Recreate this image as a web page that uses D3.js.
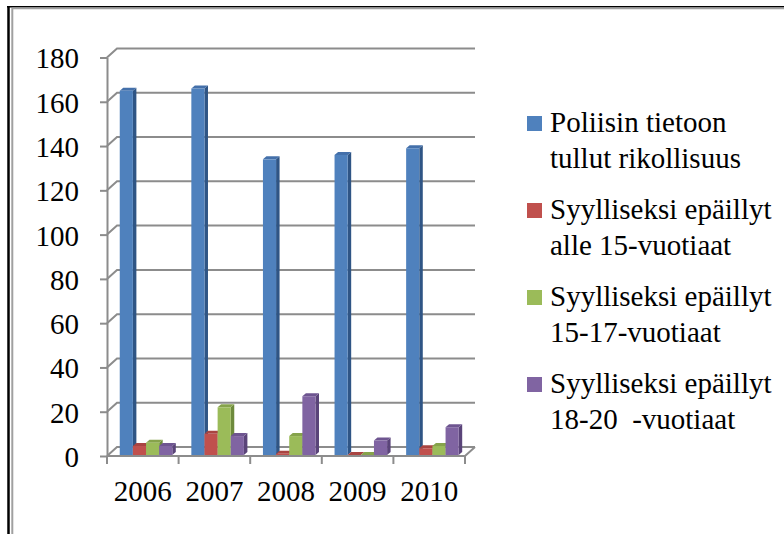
<!DOCTYPE html>
<html>
<head>
<meta charset="utf-8">
<script src="https://cdn.jsdelivr.net/npm/d3@7"></script>
<style>
  body { margin: 0; background: #fff; }
  svg text { font-family: "Liberation Serif", "DejaVu Serif", serif; fill: #000; }
</style>
</head>
<body>
<svg id="chart" width="784" height="534"></svg>
<script>
const years = ["2006", "2007", "2008", "2009", "2010"];
const seriesNames = [
  ["Poliisin tietoon", "tullut rikollisuus"],
  ["Syylliseksi epäillyt", "alle 15-vuotiaat"],
  ["Syylliseksi epäillyt", "15-17-vuotiaat"],
  ["Syylliseksi epäillyt", "18-20  -vuotiaat"]
];
const poliisi = [165, 166, 134, 136, 139];
const alle15 = [4.5, 10, 1, 0.5, 3.5];
const v15to17 = [6, 22, 9, 0.4, 4.5];
const v18to20 = [4.5, 9, 27, 7, 13];
const yTicks = [0, 20, 40, 60, 80, 100, 120, 140, 160, 180];

const series = [poliisi, alle15, v15to17, v18to20];
const front = ["#4f81bd", "#c0504d", "#9bbb59", "#8064a2"];
const side = ["#2f5585", "#8c3634", "#6d8a3c", "#5a4479"];
const topc = ["#4470aa", "#a94441", "#86a34b", "#6e5590"];

const FONT = 29;
const DEPTH = { x: 10, y: 9 };   // back wall offset
const BAR_D = { x: 3.5, y: 3 };  // bar depth
const PLOT = { left: 107, right: 465, top: 57.5, bottom: 456 };
const GRID = "#8c8c8c";

const svg = d3.select("#chart");

// frame
svg.append("line").attr("x1", 8.5).attr("x2", 8.5).attr("y1", 6).attr("y2", 534)
  .attr("stroke", "#000").attr("stroke-width", 2.5);
svg.append("line").attr("x1", 7).attr("x2", 784).attr("y1", 6.7).attr("y2", 6.7)
  .attr("stroke", "#000").attr("stroke-width", 1.6);
svg.append("line").attr("x1", 12.3).attr("x2", 784).attr("y1", 8.4).attr("y2", 8.4)
  .attr("stroke", "#a0a0a0").attr("stroke-width", 1.6);
svg.append("line").attr("x1", 12.3).attr("x2", 12.3).attr("y1", 8).attr("y2", 534)
  .attr("stroke", "#a0a0a0").attr("stroke-width", 2);

const y = d3.scaleLinear().domain([0, 180]).range([PLOT.bottom, PLOT.top]);
const x0 = d3.scaleBand().domain(years).range([PLOT.left, PLOT.right]).padding(0);
const bw = x0.bandwidth();
const x1 = d3.scaleBand().domain(d3.range(series.length))
  .range([bw * 0.178, bw * 0.912]).padding(0);

// back wall gridlines with diagonal from front axis
const grid = svg.append("g").attr("fill", "none").attr("stroke", GRID).attr("stroke-width", 2);
yTicks.forEach(t => {
  grid.append("path").attr("d",
    `M${PLOT.left},${y(t)}L${PLOT.left + DEPTH.x},${y(t) - DEPTH.y}H${PLOT.right + DEPTH.x}`);
});
// floor
grid.append("path").attr("d",
  `M${PLOT.left},${y(0)}H${PLOT.right}L${PLOT.right + DEPTH.x},${y(0) - DEPTH.y}`);
// category ticks under floor
x0.domain().map(d => x0(d)).concat([PLOT.right]).forEach(xv => {
  grid.append("line").attr("x1", xv).attr("x2", xv).attr("y1", y(0)).attr("y2", y(0) + 8);
});

// bars
const bars = svg.append("g");
years.forEach((yr, i) => {
  series.forEach((vals, s) => {
    const xl = x0(yr) + x1(s);
    const w = x1.bandwidth();
    const yt = y(vals[i]);
    const yb = y(0) - 1;
    const dx = BAR_D.x, dy = BAR_D.y;
    bars.append("path").attr("fill", side[s])
      .attr("d", `M${xl + w},${yt}L${xl + w + dx},${yt - dy}L${xl + w + dx},${yb - dy}L${xl + w},${yb}Z`);
    bars.append("path").attr("fill", topc[s])
      .attr("d", `M${xl},${yt}L${xl + dx},${yt - dy}L${xl + w + dx},${yt - dy}L${xl + w},${yt}Z`);
    bars.append("rect").attr("fill", front[s])
      .attr("x", xl).attr("y", yt).attr("width", w).attr("height", Math.max(0, yb - yt));
  });
});

// y axis
const yAxis = d3.axisLeft(y).tickValues(yTicks).tickSize(7).tickSizeOuter(0).tickPadding(21);
const ga = svg.append("g").attr("transform", `translate(${PLOT.left},0)`).call(yAxis);
ga.attr("font-family", null);
ga.select(".domain").attr("stroke", GRID).attr("stroke-width", 2);
ga.selectAll(".tick line").attr("stroke", GRID).attr("stroke-width", 2);
ga.selectAll(".tick text").attr("font-size", FONT).attr("dy", "0.36em");

// x axis labels
const xAxis = d3.axisBottom(x0).tickSize(0).tickPadding(24);
const gx = svg.append("g").attr("transform", `translate(0,${y(0)})`).call(xAxis);
gx.attr("font-family", null);
gx.select(".domain").remove();
gx.selectAll(".tick text").attr("font-size", FONT);

// legend
const legend = svg.append("g");
seriesNames.forEach((lines, s) => {
  const base = 131.5 + s * 87;
  legend.append("rect").attr("x", 527).attr("y", base - 15.5)
    .attr("width", 15).attr("height", 15).attr("fill", front[s]);
  lines.forEach((ln, j) => {
    legend.append("text").attr("x", 550).attr("y", base + j * 36)
      .attr("font-size", FONT).style("white-space", "pre").text(ln);
  });
});
</script>
</body>
</html>
